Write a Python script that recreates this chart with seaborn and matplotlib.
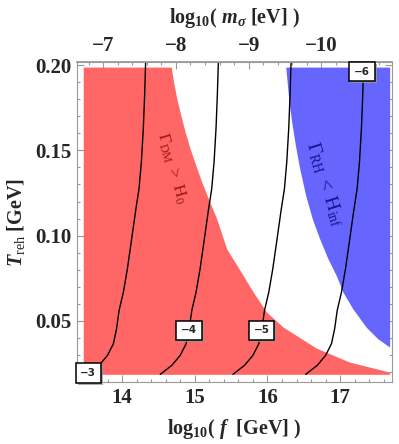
import numpy as np
import pandas as pd
import matplotlib
matplotlib.use("Agg")
import matplotlib.pyplot as plt
import matplotlib.patheffects as pe
from matplotlib.ticker import MultipleLocator, FormatStrFormatter
import seaborn as sns

red_f = [13.466, 14.676, 14.708, 14.753, 14.808, 14.868, 14.936, 15.014, 15.096, 15.187,
         15.301, 15.438, 15.621, 15.804, 15.986, 16.215, 16.671, 17.128, 17.68]
red_T = [0.1988, 0.1988, 0.1900, 0.1803, 0.1705, 0.1607, 0.1509, 0.1412, 0.1314, 0.1216,
         0.1099, 0.0923, 0.0797, 0.0669, 0.0552, 0.0464, 0.0341, 0.0259, 0.0200]
red_floor = 0.0187

blue_T = [0.1988, 0.1900, 0.1783, 0.1666, 0.1529, 0.1392, 0.1236, 0.1099, 0.0982, 0.0865,
          0.0767, 0.0669, 0.0571, 0.0464, 0.0396, 0.0347]
blue_f = [16.251, 16.270, 16.297, 16.333, 16.384, 16.443, 16.525, 16.616, 16.717, 16.831,
          16.945, 17.037, 17.174, 17.356, 17.516, 17.68]
blue_edge = 17.68

cont_T = [0.2018, 0.1822, 0.1627, 0.1431, 0.1275, 0.1148, 0.0982, 0.0806, 0.0669, 0.0562,
          0.0455, 0.0366, 0.0298, 0.0240, 0.0187]
cont_f = {
    "-3": [14.324, 14.310, 14.292, 14.265, 14.233, 14.187, 14.132, 14.073, 14.018, 13.959,
           13.924, 13.880, 13.799, 13.685, 13.525],
    "-4": [15.324, 15.310, 15.292, 15.265, 15.233, 15.187, 15.132, 15.073, 15.018, 14.959,
           14.924, 14.880, 14.799, 14.685, 14.525],
    "-5": [16.324, 16.310, 16.292, 16.265, 16.233, 16.187, 16.132, 16.073, 16.018, 15.959,
           15.924, 15.880, 15.799, 15.685, 15.525],
    "-6": [17.324, 17.310, 17.292, 17.265, 17.233, 17.187, 17.132, 17.073, 17.018, 16.959,
           16.924, 16.880, 16.799, 16.685, 16.525],
}
label_pos = {"-3": (13.534, 0.0195), "-4": (14.918, 0.0444),
             "-5": (15.92, 0.0444), "-6": (17.30, 0.1962)}

m_offset = 6.74  # log10 m_sigma = m_offset - log10 f

sns.set_theme(style="ticks")
plt.rcParams['font.family'] = ['Liberation Serif', 'DejaVu Serif']
plt.rcParams['mathtext.fontset'] = 'custom'
plt.rcParams['mathtext.rm'] = 'Liberation Serif'
plt.rcParams['mathtext.it'] = 'Liberation Serif:italic'
plt.rcParams['mathtext.bf'] = 'Liberation Serif:bold'
plt.rcParams['mathtext.bfit'] = 'Liberation Serif:italic:bold'

fig = plt.figure(figsize=(3.99, 4.44), dpi=100)
ax = fig.add_axes([0.193, 0.1396, 0.789, 0.7208])

ax.fill_between(red_f, red_floor, red_T, color="#ff6666", lw=0)
ax.fill_betweenx(blue_T, blue_f, blue_edge, color="#6666ff", lw=0)

for key, xs in cont_f.items():
    df = pd.DataFrame({"f": xs, "T": cont_T})
    sns.lineplot(data=df, x="f", y="T", sort=False, estimator=None,
                 color="black", lw=1.0, ax=ax)
    t = ax.text(*label_pos[key], key.replace("-", "\u2212"), ha="center", va="center",
                fontsize=7.5, fontweight="bold", family="DejaVu Sans", zorder=5,
                bbox=dict(boxstyle="square,pad=0.45", fc="white", ec="black", lw=1.1))
    t.get_bbox_patch().set_path_effects([pe.withSimplePatchShadow(offset=(1.5, -1.5), shadow_rgbFace="0.6", alpha=0.8)])

ax.text(14.685, 0.1396, r"$\Gamma_{\mathrm{DM}}\ >\ \mathrm{H}_0$", rotation=-74,
        ha="center", va="center", color="#a01818", fontsize=12.5)
ax.text(16.78, 0.130, r"$\Gamma_{\mathrm{RH}}\ <\ \mathrm{H}_{\mathrm{inf}}$", rotation=-72.5,
        ha="center", va="center", color="#141490", fontsize=14)

ax.set_xlim(13.38, 17.71)
ax.set_ylim(0.0142, 0.2018)
ax.set_xticks([14, 15, 16, 17])
ax.set_yticks([0.05, 0.10, 0.15, 0.20])
ax.xaxis.set_minor_locator(MultipleLocator(0.2))
ax.yaxis.set_minor_locator(MultipleLocator(0.01))
ax.yaxis.set_major_formatter(FormatStrFormatter("%.2f"))
ax.tick_params(which="both", direction="in", color="0.6", width=0.8,
               right=True, labelsize=15, pad=4)
ax.tick_params(which="major", length=5)
ax.tick_params(which="minor", length=2.5)
for lab in ax.get_xticklabels() + ax.get_yticklabels():
    lab.set_fontweight("bold")
for s in ax.spines.values():
    s.set_color("0.6")
    s.set_linewidth(0.8)

sec = ax.secondary_xaxis("top", functions=(lambda x: m_offset - x, lambda m: m_offset - m))
sec.set_xticks([-7, -8, -9, -10])
sec.xaxis.set_minor_locator(MultipleLocator(0.2))
sec.tick_params(which="both", direction="in", color="0.6", width=0.8, labelsize=15, pad=4)
sec.tick_params(which="major", length=5)
sec.tick_params(which="minor", length=2.5)
sec.spines["top"].set_color("0.6")
for lab in sec.get_xticklabels():
    lab.set_fontweight("bold")

ax.set_xlabel(r"log$_{\mathbf{10}}$( $\mathbfit{f}$  [GeV] )", fontsize=14.5, fontweight="bold", labelpad=7)
ax.set_ylabel(r"$\mathbfit{T}_{\mathrm{reh}}$ [GeV]", fontsize=14.5, fontweight="bold", labelpad=6)
sec.set_xlabel(r"log$_{\mathbf{10}}$( $\mathbfit{m}_{\mathbfit{\sigma}}$ [eV] )", fontsize=14.5, fontweight="bold", labelpad=10)

fig.savefig("out.png", dpi=100)
